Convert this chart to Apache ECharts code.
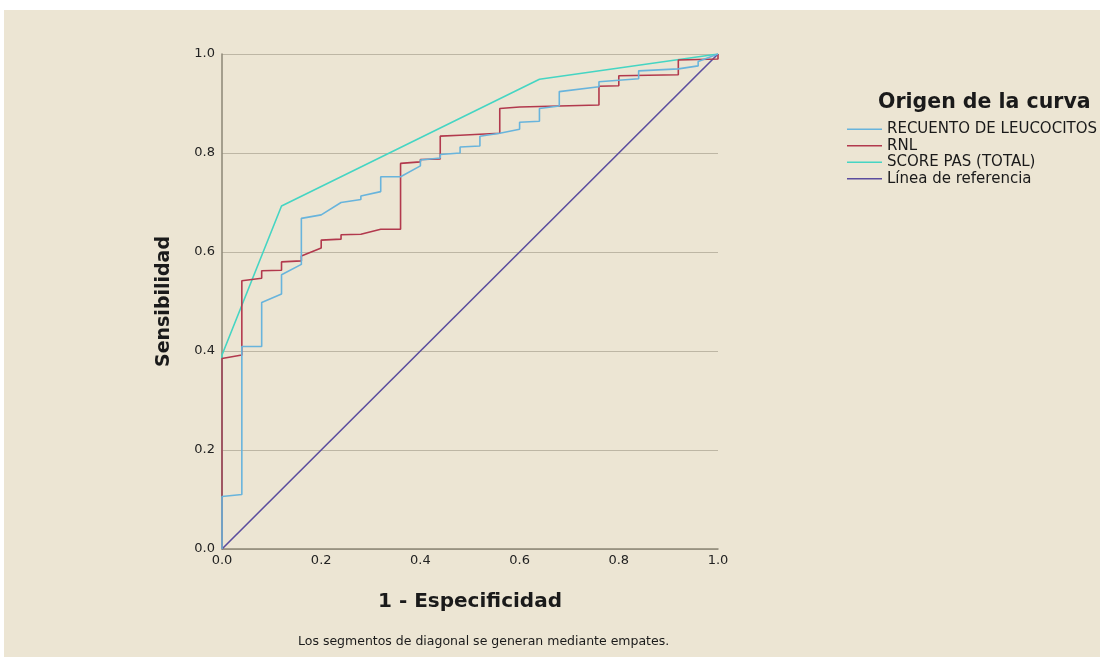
<!DOCTYPE html>
<html>
<head>
<meta charset="utf-8">
<script src="https://cdn.jsdelivr.net/npm/echarts@6/dist/echarts.min.js"></script>
<style>
  html, body { margin: 0; padding: 0; background: #fff; }
  #chart { width: 1110px; height: 657px; }
</style>
</head>
<body>
<div id="chart"></div>
<script>
// curva ROC
var leucoX = [0, 0, 0.04, 0.04, 0.08, 0.08, 0.12, 0.12, 0.16, 0.16, 0.2, 0.24, 0.28, 0.28, 0.32, 0.32, 0.36, 0.4, 0.4, 0.44, 0.44, 0.48, 0.48, 0.52, 0.52, 0.56, 0.6, 0.6, 0.64, 0.64, 0.68, 0.68, 0.76, 0.76, 0.84, 0.84, 0.92, 0.96, 0.96, 1];
var leucoY = [0, 0.106, 0.11, 0.409, 0.409, 0.498, 0.515, 0.554, 0.575, 0.668, 0.675, 0.7, 0.706, 0.713, 0.722, 0.752, 0.752, 0.774, 0.786, 0.79, 0.797, 0.8, 0.812, 0.814, 0.834, 0.84, 0.848, 0.862, 0.864, 0.89, 0.895, 0.924, 0.934, 0.944, 0.95, 0.966, 0.97, 0.976, 0.985, 1];

var rnlX = [0, 0, 0.04, 0.04, 0.08, 0.08, 0.12, 0.12, 0.16, 0.16, 0.2, 0.2, 0.24, 0.24, 0.28, 0.32, 0.36, 0.36, 0.4, 0.4, 0.44, 0.44, 0.48, 0.48, 0.56, 0.56, 0.6, 0.6, 0.76, 0.76, 0.8, 0.8, 0.92, 0.92, 1, 1];
var rnlY = [0, 0.385, 0.392, 0.542, 0.547, 0.562, 0.563, 0.58, 0.582, 0.592, 0.608, 0.624, 0.626, 0.635, 0.636, 0.646, 0.646, 0.779, 0.782, 0.787, 0.788, 0.834, 0.836, 0.84, 0.84, 0.89, 0.893, 0.897, 0.897, 0.935, 0.936, 0.956, 0.958, 0.988, 0.99, 1];

var pasX = [0, 0, 0.12, 0.64, 1];
var pasY = [0, 0.392, 0.693, 0.949, 1];

var refX = [0, 1];
var refY = [0, 1];

var names = ['RECUENTO DE LEUCOCITOS', 'RNL', 'SCORE PAS (TOTAL)', 'Línea de referencia'];
var colores = ['#68b4dc', '#b2394d', '#45d5c3', '#5b4d9e'];

function pares(xs, ys) {
  var out = [];
  for (var i = 0; i < xs.length; i++) out.push([xs[i], ys[i]]);
  return out;
}

var fuente = '"DejaVu Sans", Verdana, sans-serif';
var chart = echarts.init(document.getElementById('chart'));

var datos = [pares(leucoX, leucoY), pares(rnlX, rnlY), pares(pasX, pasY), pares(refX, refY)];
var series = [];
for (var i = 0; i < names.length; i++) {
  series.push({
    name: names[i],
    type: 'line',
    data: datos[i],
    symbol: 'none',
    z: 10 - i,
    lineStyle: { color: colores[i], width: 1.6 },
    itemStyle: { color: colores[i] }
  });
}

chart.setOption({
  backgroundColor: '#ffffff',
  animation: false,
  color: colores,
  graphic: [
    { type: 'rect', z: -10, shape: { x: 4, y: 10, width: 1096, height: 647 }, style: { fill: '#ece5d3' } },
    { type: 'text', left: 878, top: 92, style: { text: 'Origen de la curva', font: 'bold 20.5px ' + fuente, fill: '#1a1a1a' } },
    { type: 'text', left: 298, top: 635, style: { text: 'Los segmentos de diagonal se generan mediante empates.', font: '12.5px ' + fuente, fill: '#1a1a1a' } }
  ],
  legend: {
    orient: 'vertical',
    left: 842,
    top: 116,
    itemGap: 0,
    itemWidth: 35,
    itemHeight: 1.6,
    icon: 'rect',
    data: names,
    textStyle: { fontFamily: fuente, fontSize: 15, lineHeight: 16.5, color: '#1a1a1a' }
  },
  grid: { left: 222, right: 392, top: 54, bottom: 108 },
  xAxis: {
    type: 'value',
    min: 0, max: 1, interval: 0.2,
    name: '1 - Especificidad',
    nameLocation: 'middle',
    nameGap: 43,
    nameTextStyle: { fontFamily: fuente, fontSize: 20, fontWeight: 'bold', color: '#1a1a1a' },
    axisLine: { lineStyle: { color: '#8c8676', width: 1.5 } },
    axisTick: { show: false },
    splitLine: { show: false },
    axisLabel: {
      fontFamily: fuente, fontSize: 13, color: '#222', margin: 5,
      formatter: function (v) { return v.toFixed(1); }
    }
  },
  yAxis: {
    type: 'value',
    min: 0, max: 1, interval: 0.2,
    name: 'Sensibilidad',
    nameLocation: 'middle',
    nameGap: 48,
    nameRotate: 90,
    nameTextStyle: { fontFamily: fuente, fontSize: 19, fontWeight: 'bold', color: '#1a1a1a' },
    axisLine: { show: true, lineStyle: { color: '#8c8676', width: 1.5 } },
    axisTick: { show: false },
    splitLine: { show: true, lineStyle: { color: '#bdb6a4', width: 1 } },
    axisLabel: {
      fontFamily: fuente, fontSize: 13, color: '#222', margin: 7,
      formatter: function (v) { return v.toFixed(1); }
    }
  },
  series: series
});
</script>
</body>
</html>
